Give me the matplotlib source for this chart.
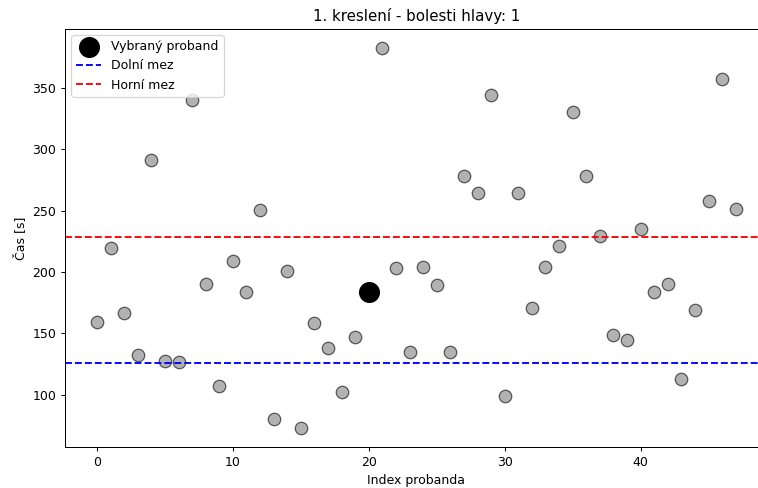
import matplotlib
matplotlib.use("Agg")
import matplotlib.pyplot as plt
import numpy as np

# Drawing times per participant (seconds)
casy = [159, 220, 167, 132.5, 291.5, 127.5, 126.5, 340.5, 190, 107,
        209, 184, 250.5, 80, 200.5, 73, 158.5, 138.3, 102, 147,
        183.5, 382.5, 203, 135, 204, 189.5, 134.5, 278.5, 264, 344,
        99, 264, 170.5, 204, 221, 330, 278, 229, 149, 144.5,
        235, 183.5, 190, 113, 169.5, 257.5, 357, 251]
vybrany_index = 20
dolni_mez = 125.8
horni_mez = 228.2

indexy = np.arange(len(casy))

DPI = 90
fig = plt.figure(figsize=(758 / DPI, 488 / DPI), dpi=DPI)
ax = fig.add_axes([0.0858, 0.084, 0.927, 0.8566])

ax.scatter(indexy, casy, s=100, color="gray", alpha=0.6, edgecolors="black",
           linewidths=1.0)
ax.scatter([vybrany_index], [casy[vybrany_index]], s=250, color="black",
           zorder=3, label="Vybraný proband")
ax.axhline(dolni_mez, color="blue", linestyle="--", label="Dolní mez")
ax.axhline(horni_mez, color="red", linestyle="--", label="Horní mez")

ax.set_title("1. kreslení - bolesti hlavy: 1")
ax.set_xlabel("Index probanda")
ax.set_ylabel("Čas [s]")
ax.legend(loc="upper left")

fig.savefig("out.png", dpi=DPI)
